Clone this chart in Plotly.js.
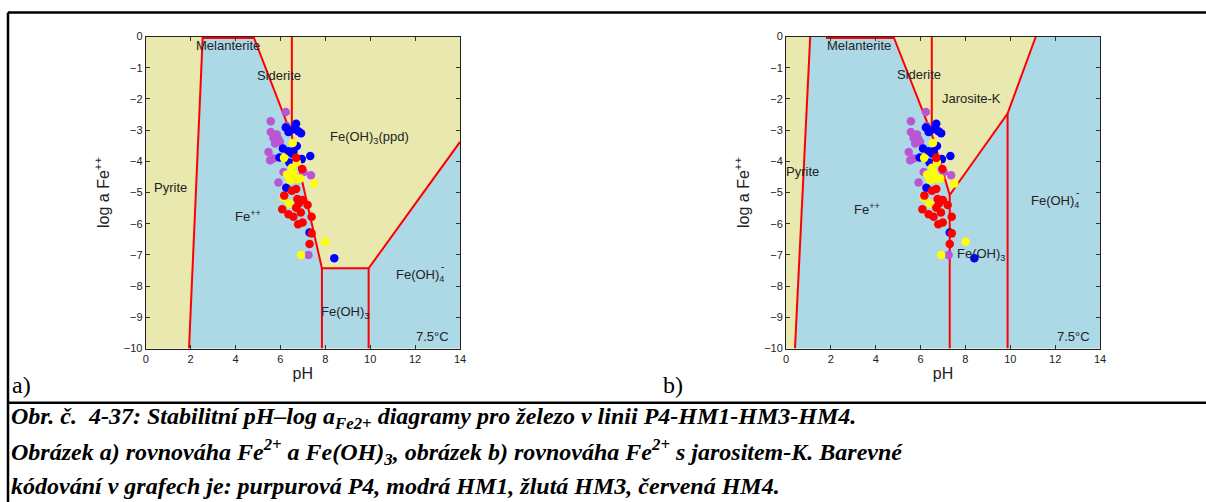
<!DOCTYPE html>
<html><head><meta charset="utf-8">
<script src="https://cdn.plot.ly/plotly-3.0.1.min.js"></script>
<style>body{margin:0;background:#fff}#c{width:1206px;height:502px}</style>
</head><body><div id="c"></div><script>
// ---- sample data (same points in both panels) ----
const p4_pH  = [6.24,5.57,5.57,5.84,5.69,5.91,5.76,5.98,5.47,5.54,5.69,6.14,5.91,7.03,7.36,7.25,6.28];
const p4_log = [-2.42,-2.72,-3.06,-3.14,-3.25,-3.29,-3.43,-3.38,-3.70,-3.97,-3.91,-4.34,-4.68,-4.34,-4.45,-7.00,-2.87];
const hm1_pH  = [6.24,6.70,6.36,6.58,6.92,6.80,6.11,6.36,6.58,6.73,6.51,5.96,6.40,6.95,7.33,6.26,7.30,8.40];
const hm1_log = [-2.92,-2.80,-3.06,-2.97,-3.10,-3.04,-3.59,-3.68,-3.68,-3.51,-3.75,-3.88,-4.04,-3.93,-3.83,-4.85,-6.28,-7.11];
const hm3_pH  = [6.55,6.16,6.73,6.51,6.29,6.58,6.43,6.73,6.88,7.50,6.14,6.40,8.01,6.92];
const hm3_log = [-3.41,-3.89,-4.04,-4.21,-4.42,-4.36,-4.61,-4.57,-4.55,-4.71,-5.17,-5.35,-6.58,-7.00];
const hm4_pH  = [6.70,6.97,6.70,6.51,6.17,6.76,6.99,6.82,7.21,6.70,6.08,6.36,6.58,6.91,7.39,6.79,6.99,7.39,7.30];
const hm4_log = [-3.89,-4.25,-4.89,-4.94,-5.10,-5.21,-5.24,-5.35,-5.40,-5.49,-5.54,-5.70,-5.78,-5.64,-5.78,-6.02,-5.96,-6.31,-6.65];

// ---- panel a) boundaries ----
const a_blue_pH  = [2.54,4.80,6.51,7.85,9.93,14,14,1.93];
const a_blue_log = [0,0,-3.18,-7.43,-7.43,-3.38,-10,-10];
const a_line_pH  = [1.93,2.54,null,4.80,6.51,7.85,9.93,14,null,6.51,6.51,null,7.85,7.85,null,9.93,9.93];
const a_line_log = [-10,0,null,0,-3.18,-7.43,-7.43,-3.38,null,0,-3.18,null,-7.43,-10,null,-7.43,-10];
const a_top_pH = [2.54,4.80];
const a_top_log = [0,0];

// ---- panel b) boundaries ----
const b_blue_pH  = [1.08,4.79,6.50,7.30,9.88,11.14,14,14,0.40];
const b_blue_log = [0,0,-3.13,-5.08,-2.47,0,0,-10,-10];
const b_line_pH  = [0.40,1.08,null,4.79,6.50,7.30,9.88,11.14,null,6.50,6.50,null,7.30,7.30,null,9.88,9.88];
const b_line_log = [-10,0,null,0,-3.13,-5.08,-2.47,0,null,0,-3.13,null,-5.08,-10,null,-2.47,-10];
const b_top_pH = [1.78,4.79];
const b_top_log = [0,0];

const xTicks = [0,2,4,6,8,10,12,14];
const yTicks = [0,-1,-2,-3,-4,-5,-6,-7,-8,-9,-10];

const BLUE_BG = '#ADD8E6', KHAKI = '#E9E8AE', RED = '#FF0000';
const SANS = 'Liberation Sans, Arial, sans-serif';
const SERIF = 'Liberation Serif';

function panel(xr, yr, bx, by, lx, ly, tx, ty){
  const t = [];
  t.push({x:bx,y:by,xaxis:xr,yaxis:yr,type:'scatter',mode:'lines',fill:'toself',fillcolor:BLUE_BG,line:{width:0},hoverinfo:'skip',showlegend:false});
  t.push({x:lx,y:ly,xaxis:xr,yaxis:yr,type:'scatter',mode:'lines',line:{color:RED,width:2},hoverinfo:'skip',showlegend:false});
  t.push({x:tx,y:ty,xaxis:xr,yaxis:yr,type:'scatter',mode:'lines',line:{color:RED,width:5},hoverinfo:'skip',showlegend:false});
  const sets = [[p4_pH,p4_log,'#BA55D3'],[hm1_pH,hm1_log,'#0000FF'],[hm3_pH,hm3_log,'#FFFF00'],[hm4_pH,hm4_log,'#FF0000']];
  sets.forEach(s=>t.push({x:s[0],y:s[1],xaxis:xr,yaxis:yr,type:'scatter',mode:'markers',marker:{color:s[2],size:8.5,line:{width:0}},showlegend:false}));
  return t;
}

const data = [].concat(
  panel('x','y',a_blue_pH,a_blue_log,a_line_pH,a_line_log,a_top_pH,a_top_log),
  panel('x2','y2',b_blue_pH,b_blue_log,b_line_pH,b_line_log,b_top_pH,b_top_log)
);

const axX = (dom, anchor) => ({domain:dom, anchor:anchor, range:[0,14], tickvals:xTicks, ticks:'inside', ticklen:4, tickcolor:'#333',
  showline:true, linecolor:'#222', linewidth:1, mirror:'ticks', showgrid:false, zeroline:false,
  tickfont:{family:SANS,size:11,color:'#222'}, title:{text:'pH', font:{family:SANS,size:16,color:'#222'}, standoff:4}});
const axY = (dom, anchor) => ({domain:dom, anchor:anchor, range:[-10,0], tickvals:yTicks, ticks:'inside', ticklen:4, tickcolor:'#333',
  showline:true, linecolor:'#222', linewidth:1, mirror:'ticks', showgrid:false, zeroline:false,
  tickfont:{family:SANS,size:11,color:'#222'}, title:{text:'log a Fe<sup>++</sup>', font:{family:SANS,size:16,color:'#222'}, standoff:10}});

const lab = (xref,yref,x,y,text,size) => ({xref:xref,yref:yref,x:x,y:y,text:text,showarrow:false,font:{family:SANS,size:size||13,color:'#222'}});
const cap = (py,text) => ({xref:'paper',yref:'paper',x:9/1206,y:1-py/502,xanchor:'left',yanchor:'middle',showarrow:false,
   text:'<b><i>'+text+'</i></b>', font:{family:SERIF,size:24,color:'#000'}});

const annotations = [
  lab('x','y',3.65,-0.29,'Melanterite'),
  lab('x','y',5.94,-1.26,'Siderite'),
  lab('x','y',9.99,-3.25,'Fe(OH)<sub>3</sub>(ppd)'),
  lab('x','y',1.11,-4.85,'Pyrite'),
  lab('x','y',4.57,-5.75,'Fe<sup>++</sup>'),
  lab('x','y',12.22,-7.66,'Fe(OH)<sub>4</sub>'),
  lab('x','y',13.22,-7.36,'-',10),
  lab('x','y',8.88,-8.85,'Fe(OH)<sub>3</sub>'),
  lab('x','y',12.78,-9.6,'7.5°C'),
  lab('x2','y2',3.27,-0.28,'Melanterite'),
  lab('x2','y2',5.92,-1.22,'Siderite'),
  lab('x2','y2',8.29,-1.99,'Jarosite-K'),
  lab('x2','y2',0.75,-4.32,'Pyrite'),
  lab('x2','y2',3.6,-5.52,'Fe<sup>++</sup>'),
  lab('x2','y2',11.99,-5.30,'Fe(OH)<sub>4</sub>'),
  lab('x2','y2',12.99,-5.00,'-',10),
  lab('x2','y2',8.69,-6.98,'Fe(OH)<sub>3</sub>'),
  lab('x2','y2',12.8,-9.6,'7.5°C'),
  {xref:'paper',yref:'paper',x:10/1206,y:1-385/502,xanchor:'left',yanchor:'middle',text:'a)',showarrow:false,font:{family:SERIF,size:24,color:'#000'}},
  {xref:'paper',yref:'paper',x:661/1206,y:1-385/502,xanchor:'left',yanchor:'middle',text:'b)',showarrow:false,font:{family:SERIF,size:24,color:'#000'}},
  cap(418,'Obr. č.  4-37: Stabilitní pH–log a<sub>Fe2+</sub> diagramy pro železo v linii P4-HM1-HM3-HM4.'),
  cap(452,'Obrázek a) rovnováha Fe<sup>2+</sup> a Fe(OH)<sub>3</sub>, obrázek b) rovnováha Fe<sup>2+</sup> s jarositem-K. Barevné'),
  cap(486,'kódování v grafech je: purpurová P4, modrá HM1, žlutá HM3, červená HM4.')
];

const shapes = [
  {type:'line',xref:'paper',yref:'paper',x0:8/1206,x1:1.01,y0:1-12.5/502,y1:1-12.5/502,line:{color:'#000',width:2.5}},
  {type:'line',xref:'paper',yref:'paper',x0:8/1206,x1:8/1206,y0:1-12.5/502,y1:-0.01,line:{color:'#000',width:2.5}},
  {type:'line',xref:'paper',yref:'paper',x0:8/1206,x1:1.01,y0:1-402.7/502,y1:1-402.7/502,line:{color:'#000',width:2.5}}
];

const yDom = [1-348.5/502, 1-36.5/502];
const layout = {
  width:1206, height:502, margin:{l:0,r:0,t:0,b:0},
  paper_bgcolor:'#fff', plot_bgcolor:KHAKI, showlegend:false,
  xaxis: axX([145.7/1206, 460/1206],'y'),
  yaxis: axY(yDom,'x'),
  xaxis2: axX([786/1206, 1100/1206],'y2'),
  yaxis2: axY(yDom,'x2'),
  annotations: annotations, shapes: shapes
};
Plotly.newPlot('c', data, layout, {displayModeBar:false, staticPlot:true});
</script></body></html>
